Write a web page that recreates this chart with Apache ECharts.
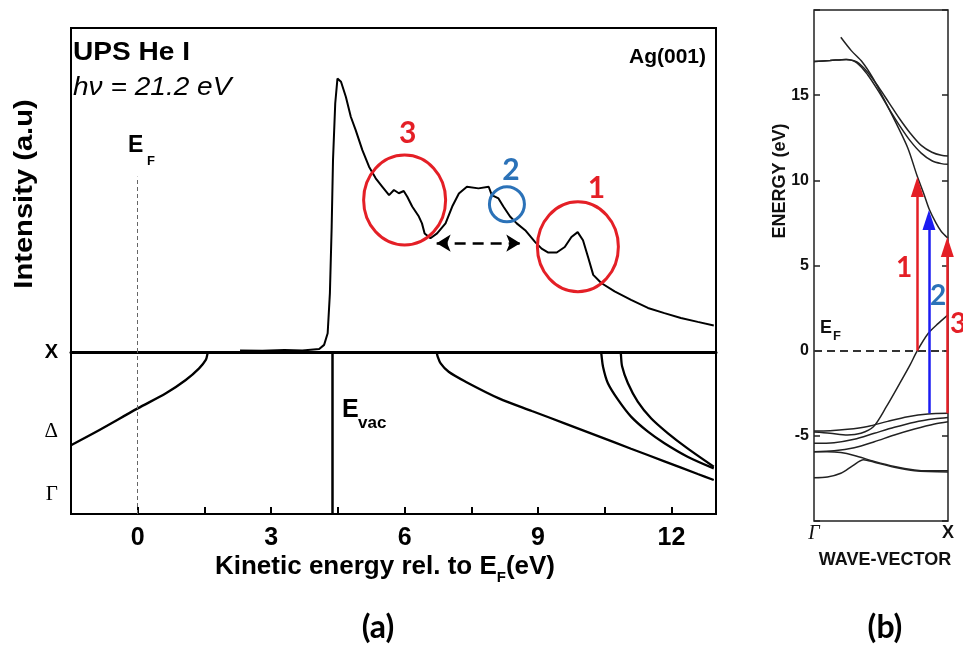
<!DOCTYPE html>
<html>
<head>
<meta charset="utf-8">
<script src="https://cdn.jsdelivr.net/npm/echarts@6/dist/echarts.min.js"></script>
<style>html,body{margin:0;padding:0;background:#fff}#c{width:963px;height:646px}</style>
</head>
<body>
<div id="c"></div>
<script>
// ---------------- DATA ----------------
// (a) UPS spectrum: kinetic energy rel. to EF (eV) vs intensity (a.u., frame top = 100)
const spectrumEnergy = [2.30,2.80,3.30,3.70,4.08,4.19,4.27,4.32,4.36,4.39,4.44,4.49,4.57,4.68,4.79,4.90,5.05,5.20,5.35,5.50,5.65,5.76,5.87,5.98,6.06,6.17,6.32,6.39,6.45,6.58,6.73,6.92,7.07,7.22,7.40,7.66,7.89,7.96,8.11,8.22,8.37,8.52,8.71,8.93,9.08,9.23,9.42,9.60,9.75,9.89,10.01,10.13,10.24,10.42,10.72,11.09,11.47,11.84,12.21,12.59,12.95];
const spectrumIntensity = [0.5,0.4,0.6,0.5,0.9,2.2,5.8,18.1,38.6,59.2,76.7,84.4,83.4,78.7,72.6,68.5,62.3,57.2,53.6,51.0,48.4,50.0,49.0,49.7,47.9,44.9,41.8,39.7,36.6,35.1,36.6,39.7,44.9,48.9,51.0,50.5,51.0,48.4,47.4,44.9,41.8,39.7,37.6,34.0,31.9,30.7,30.7,32.4,35.5,37.0,34.5,29.0,23.8,21.3,18.7,16.1,13.6,12.0,10.5,9.3,8.2];

// (a) lower panel: final-state bands (energy vs wave-vector position, X = 1)
const curveAEnergy = [-1.5,-0.86,0,0.634,1.08,1.38,1.53,1.565,1.575];
const curveAK      = [0.425,0.519,0.652,0.745,0.827,0.899,0.951,0.985,1.0];
const curveBEnergy = [6.72,6.74,6.81,6.99,7.37,8.12,8.86,9.61,10.35,11.09,11.84,12.59,12.95];
const curveBK      = [1.0,0.975,0.930,0.878,0.817,0.714,0.636,0.558,0.481,0.403,0.325,0.247,0.210];
const curveC1Energy = [10.41,10.42,10.46,10.57,10.80,11.09,11.47,11.84,12.36,12.95];
const curveC1K      = [1.0,0.992,0.909,0.807,0.704,0.601,0.508,0.437,0.354,0.282];
const curveC2Energy = [10.855,10.86,10.89,11.02,11.24,11.54,11.92,12.36,12.95];
const curveC2K      = [1.0,0.992,0.910,0.807,0.694,0.591,0.498,0.405,0.292];
const efEnergy = 0;
const evacEnergy = 4.38;
const efLineTop = 54.1;
const xTickLabels = [0,3,6,9,12];
const lowerYLabels = ['X','Δ','Γ'];
const lowerYLabelPos = [1,0.512,0.123];

// (b) band structure Γ -> X (k: 0..1), energy in eV
const bandU1K = [0.20,0.28,0.36,0.44,0.52,0.61,0.70,0.77,0.82,0.86,0.91,0.95,1.00];
const bandU1E = [18.4,17.6,16.95,16.0,14.8,13.4,11.9,10.25,9.2,8.3,7.5,7.0,6.6];
const bandU23K = [0,0.12,0.24,0.32,0.40,0.48,0.56,0.64,0.72,0.80,0.88,0.95,1.0];
const bandU2E = [16.97,17.03,17.1,16.95,16.35,15.5,14.55,13.6,12.75,12.05,11.65,11.47,11.43];
const bandU3E = [16.97,17.03,17.1,16.9,16.2,15.25,14.2,13.2,12.3,11.6,11.15,10.98,10.94];
const bandDTopK = [0,0.12,0.25,0.40,0.55,0.70,0.85,1.0];
const bandDTopE = [-4.72,-4.7,-4.62,-4.45,-4.15,-3.88,-3.72,-3.68];
const bandSpK = [0,0.12,0.25,0.35,0.443,0.54,0.64,0.716,0.771,0.853,0.928,1.0];
const bandSpE = [-4.78,-4.85,-4.95,-4.85,-4.47,-3.29,-1.92,-0.85,0,1.02,1.6,2.1];
const bandD23K = [0,0.15,0.3,0.45,0.6,0.75,0.9,1.0];
const bandD2E = [-5.44,-5.4,-5.2,-4.85,-4.5,-4.2,-4.0,-3.92];
const bandD3E = [-5.93,-5.88,-5.7,-5.35,-4.95,-4.6,-4.3,-4.17];
const bandD4K = [0,0.1,0.2,0.3,0.45,0.6,0.75,0.85,1.0];
const bandD4E = [-5.93,-5.93,-5.98,-6.15,-6.5,-6.8,-7.0,-7.05,-7.05];
const bandD5K = [0,0.1,0.2,0.29,0.37,0.45,0.6,0.75,1.0];
const bandD5E = [-7.46,-7.42,-7.2,-6.75,-6.4,-6.55,-6.85,-7.05,-7.12];
// transitions (k, start E, tip E)
const transK = [0.771,0.858,0.995];
const transFrom = [0,-3.68,-3.68];
const transTip = [10.2,8.26,6.67];
const transLabels = ['1','2','3'];

// ---------------- CHART ----------------
const SANS = '"Liberation Sans", Arial, sans-serif';
const SERIF = '"Liberation Serif", "Times New Roman", serif';
const CAL = 'Lato, "Liberation Sans", sans-serif';
const RED = '#e41f26', BLUE_A = '#2b72b8', BLUE_ARROW = '#1c1cf2';
const zip = (a, b) => a.map((v, i) => [v, b[i]]);

const chart = echarts.init(document.getElementById('c'));

function curve(name, xi, yi, xs, ys, width, color, smooth) {
  return {type:'line', name, xAxisIndex:xi, yAxisIndex:yi, data:zip(xs, ys),
    symbol:'none', smooth: smooth, silent:true,
    lineStyle:{color:color, width:width}, z:3};
}
const arrowPx = 20; // arrowhead length in px
const ePerPx = 30 / 511;

const option = {
  animation:false,
  backgroundColor:'#fff',
  grid:[
    {left:71, top:28, width:645, height:324, show:true, borderColor:'#000', borderWidth:2, containLabel:false},
    {left:71, top:352, width:645, height:162, show:true, borderColor:'#000', borderWidth:2, containLabel:false},
    {left:814, top:10, width:134, height:511, show:true, borderColor:'#222', borderWidth:1.5, containLabel:false}
  ],
  xAxis:[
    {gridIndex:0, type:'value', min:-1.5, max:13,
      axisLine:{show:true, onZero:false, lineStyle:{color:'#000', width:3}},
      axisTick:{show:false}, axisLabel:{show:false}, splitLine:{show:false}},
    {gridIndex:1, type:'value', min:-1.5, max:13, interval:1.5,
      axisLine:{show:true, onZero:false, lineStyle:{color:'#000', width:2}},
      axisTick:{show:true, inside:true, length:7, lineStyle:{color:'#000', width:2}},
      axisLabel:{margin:12, fontSize:25, fontWeight:'bold', fontFamily:SANS, color:'#000',
        formatter: v => xTickLabels.some(t => Math.abs(t - v) < 1e-6) ? String(v) : ''},
      splitLine:{show:false},
      name:'Kinetic energy rel. to E{sub|F}(eV)', nameLocation:'middle', nameGap:34,
      nameTextStyle:{fontSize:26, fontWeight:'bold', fontFamily:SANS, color:'#000', padding:[0,17,0,0],
        rich:{sub:{fontSize:15, fontWeight:'bold', fontFamily:SANS, color:'#000', padding:[22,0,0,0]}}}},
    {gridIndex:2, type:'value', min:0, max:1,
      axisLine:{show:false}, axisTick:{show:false}, splitLine:{show:false},
      axisLabel:{customValues:[0,1], margin:3, fontSize:18, color:'#111',
        formatter: v => v < 0.5 ? '{g|Γ}' : '{x|X}',
        rich:{g:{fontFamily:SERIF, fontStyle:'italic', fontSize:20, color:'#111'},
              x:{fontFamily:SANS, fontWeight:'bold', fontSize:18, color:'#111'}}},
      name:'WAVE-VECTOR', nameLocation:'middle', nameGap:30,
      nameTextStyle:{fontSize:18, fontWeight:'bold', fontFamily:SANS, color:'#111', padding:[0,0,0,8]}}
  ],
  yAxis:[
    {gridIndex:0, type:'value', min:0, max:100,
      axisLine:{show:false}, axisTick:{show:false}, axisLabel:{show:false}, splitLine:{show:false}},
    {gridIndex:1, type:'value', min:0, max:1,
      axisLine:{show:false}, axisTick:{show:false}, splitLine:{show:false},
      axisLabel:{customValues:lowerYLabelPos, margin:13, color:'#000',
        formatter: v => {
          const i = lowerYLabelPos.findIndex(p => Math.abs(p - v) < 1e-6);
          if (i < 0) return '';
          return i === 0 ? '{x|X}' : '{s|' + lowerYLabels[i] + '}';
        },
        rich:{x:{fontFamily:SANS, fontWeight:'bold', fontSize:20, color:'#000'},
              s:{fontFamily:SERIF, fontSize:21, color:'#000'}}}},
    {gridIndex:2, type:'value', min:-10, max:20, interval:5, position:'left',
      axisLine:{show:false}, splitLine:{show:false},
      axisTick:{show:true, inside:true, length:6, lineStyle:{color:'#222', width:1.5}},
      axisLabel:{margin:5, fontSize:16, fontWeight:'bold', fontFamily:SANS, color:'#111',
        formatter: v => (v <= -10 || v >= 20) ? '' : String(v)}},
    {gridIndex:2, type:'value', min:-10, max:20, interval:5, position:'right',
      axisLine:{show:false}, splitLine:{show:false}, axisLabel:{show:false},
      axisTick:{show:true, inside:true, length:6, lineStyle:{color:'#222', width:1.5}}}
  ],
  series:[
    Object.assign(curve('UPS spectrum', 0, 0, spectrumEnergy, spectrumIntensity, 2, '#000', false), {
      z:5,
      markLine:{silent:true, symbol:'none', label:{show:false},
        data:[
          [{coord:[efEnergy,0], lineStyle:{type:[4,3], color:'#666', width:1}},
           {coord:[efEnergy,efLineTop]}],
          [{coord:[6.72,33.6], symbol:'arrow', symbolSize:[13,14], lineStyle:{type:[11,7], color:'#000', width:2.5}},
           {coord:[8.60,33.6], symbol:'arrow', symbolSize:[13,14]}]
        ]}
    }),
    Object.assign(curve('Band A', 1, 1, curveAEnergy, curveAK, 2.3, '#000', 0.3), {
      markLine:{silent:true, symbol:'none', label:{show:false},
        data:[
          {xAxis:efEnergy, lineStyle:{type:[4,3], color:'#666', width:1}},
          {xAxis:evacEnergy, lineStyle:{type:'solid', color:'#000', width:2.5}}
        ]}
    }),
    curve('Band B', 1, 1, curveBEnergy, curveBK, 2.3, '#000', 0.3),
    curve('Band C1', 1, 1, curveC1Energy, curveC1K, 2.3, '#000', 0.3),
    curve('Band C2', 1, 1, curveC2Energy, curveC2K, 2.3, '#000', 0.3),
    Object.assign(curve('U1', 2, 2, bandU1K, bandU1E, 1.5, '#222', 0.3), {
      markLine:{silent:true, symbol:'none', label:{show:false},
        data:[
          {yAxis:0, lineStyle:{type:[8,5], color:'#333', width:2}},
          ...transK.map((k, i) => [
            {coord:[k, transFrom[i]], symbol:'none',
             lineStyle:{type:'solid', width:2.5, color: i === 1 ? BLUE_ARROW : RED}},
            {coord:[k, transTip[i] - ePerPx * arrowPx / 2], symbol:'triangle', symbolSize:[13, arrowPx]}
          ])
        ]}
    }),
    curve('U2', 2, 2, bandU23K, bandU2E, 1.5, '#222', 0.3),
    curve('U3', 2, 2, bandU23K, bandU3E, 1.5, '#222', 0.3),
    curve('dTop', 2, 2, bandDTopK, bandDTopE, 1.5, '#222', 0.3),
    curve('sp', 2, 2, bandSpK, bandSpE, 1.5, '#222', 0.3),
    curve('d2', 2, 2, bandD23K, bandD2E, 1.5, '#222', 0.3),
    curve('d3', 2, 2, bandD23K, bandD3E, 1.5, '#222', 0.3),
    curve('d4', 2, 2, bandD4K, bandD4E, 1.5, '#222', 0.3),
    curve('d5', 2, 2, bandD5K, bandD5E, 1.5, '#222', 0.3)
  ]
};
chart.setOption(option);

// ---------------- ANNOTATIONS ----------------
const circleAnn = [
  {e:6.00, i:46.9, rx:41, ry:45, color:RED, w:3},
  {e:8.30, i:45.6, rx:17.5, ry:17.5, color:BLUE_A, w:3},
  {e:9.895, i:32.5, rx:40.5, ry:45, color:RED, w:3}
];
const numberAnn = [
  {t:'3', e:6.07, i:67.6, color:RED},
  {t:'2', e:8.39, i:56.2, color:BLUE_A},
  {t:'1', e:10.31, i:50.6, color:RED}
];
const g = [];
function txt(text, x, y, font, opts) {
  opts = opts || {};
  g.push({type:'text', x:x, y:y, rotation:opts.rotation || 0, scaleX:opts.sx || 1, z:100, silent:true,
    style:{text:text, font:font, fill:opts.fill || '#000',
      align:opts.align || 'left', verticalAlign:opts.va || 'middle',
      textAlign:opts.align || 'left', textVerticalAlign:opts.va || 'middle'}});
}
circleAnn.forEach(c => {
  const p = chart.convertToPixel({gridIndex:0}, [c.e, c.i]);
  g.push({type:'ellipse', z:90, silent:true, shape:{cx:p[0], cy:p[1], rx:c.rx, ry:c.ry},
    style:{fill:'none', stroke:c.color, lineWidth:c.w}});
});
numberAnn.forEach(n => {
  const p = chart.convertToPixel({gridIndex:0}, [n.e, n.i]);
  txt(n.t, p[0], p[1], 'bold 30px ' + CAL, {fill:n.color, align:'center'});
});
// panel (a) texts
txt('UPS He I', 73, 53, 'bold 26px ' + SANS, {sx:1.08});
txt('hν = 21.2 eV', 73, 88, 'italic 26px ' + SANS, {sx:1.08});
txt('Ag(001)', 706, 57, 'bold 21px ' + SANS, {align:'right'});
txt('E', 128, 146, 'bold 23px ' + SANS);
txt('F', 147, 161, 'bold 13px ' + SANS);
txt('E', 342, 410, 'bold 25px ' + SANS);
txt('vac', 358, 423, 'bold 17px ' + SANS);
txt('Intensity (a.u)', 25, 194, 'bold 26px ' + SANS, {align:'center', rotation:Math.PI / 2, sx:1.12});
txt('(a)', 378, 628, 'bold 32px ' + CAL, {align:'center'});
// panel (b) texts
txt('ENERGY (eV)', 780, 181, 'bold 18px ' + SANS, {align:'center', rotation:Math.PI / 2, fill:'#111'});
txt('E', 820, 328, 'bold 18px ' + SANS, {fill:'#111'});
txt('F', 833, 336, 'bold 13px ' + SANS, {fill:'#111'});
const lblPos = [[904, 268], [938, 296], [950, 324]];
transLabels.forEach((t, i) => {
  txt(t, lblPos[i][0], lblPos[i][1], 'bold 28px ' + CAL,
    {fill: i === 1 ? BLUE_A : RED, align: i === 2 ? 'left' : 'center'});
});
txt('(b)', 885, 628, 'bold 32px ' + CAL, {align:'center'});
chart.setOption({graphic:{elements:g}});
</script>
</body>
</html>
